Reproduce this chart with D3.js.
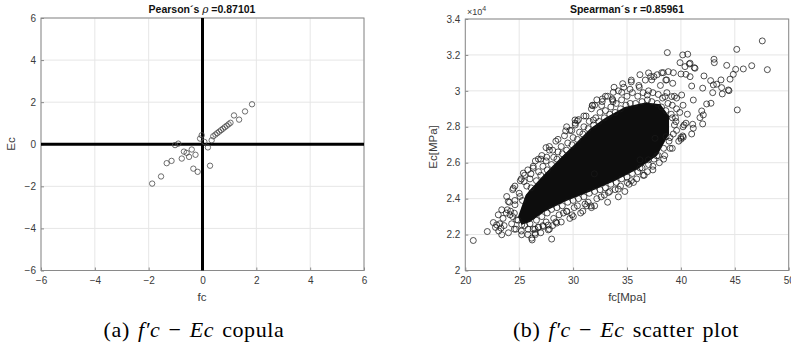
<!DOCTYPE html>
<html>
<head>
<meta charset="utf-8">
<script src="https://cdn.jsdelivr.net/npm/d3@7"></script>
<style>
  body { margin: 0; background: #fff; }
  svg { display: block; font-family: "Liberation Sans", Arial, sans-serif; }
</style>
</head>
<body>
<svg id="chart" width="791" height="347"></svg>
<script>
// ---- data ----

// (a) copula, standardised values
const copulaTicks = [-6, -4, -2, 0, 2, 4, 6];
const copulaPoints = [
  [-1.87, -1.87], [-1.54, -1.53], [-1.33, -0.90], [-1.15, -0.79], [-1.02, -0.04],
  [-0.90, 0.03], [-0.77, -0.68], [-0.69, -0.35], [-0.59, -0.41], [-0.50, -0.60],
  [-0.40, -0.25], [-0.26, -0.50], [-0.34, -1.16], [-0.18, -1.31], [0.28, -1.02],
  [-0.09, 0.27], [-0.03, 0.43], [0.07, 0.11], [0.20, -0.15], [0.34, 0.19],
  [0.40, 0.38], [0.48, 0.46], [0.55, 0.53], [0.62, 0.60], [0.69, 0.67],
  [0.76, 0.74], [0.83, 0.81], [0.90, 0.88], [0.97, 0.95], [1.04, 1.02],
  [1.17, 1.37], [1.36, 1.17], [1.58, 1.56], [1.84, 1.90]
];

// (b) scatter, fc in MPa, Ec in 10^4 MPa
const fcTicks = [20, 25, 30, 35, 40, 45, 50];
const ecTicks = [2, 2.2, 2.4, 2.6, 2.8, 3, 3.2, 3.4];

// outline of the region where the markers overlap into solid black
const denseCore = [
  [24.9, 2.30], [25.6, 2.42], [26.0, 2.45], [27.4, 2.54], [28.8, 2.625], [30.2, 2.705],
  [31.6, 2.79], [33.0, 2.85], [34.8, 2.91], [36.7, 2.935], [38.1, 2.925], [38.9, 2.86],
  [38.9, 2.76], [37.8, 2.64], [36.0, 2.565], [33.9, 2.50], [31.6, 2.44], [29.3, 2.385],
  [27.4, 2.33], [26.0, 2.27], [25.2, 2.255]
];

// markers still distinguishable above the dense core
const upperFringe = [
  [24.2,2.33],[24.6,2.39],[24.4,2.45],[25.0,2.43],[25.3,2.39],[25.1,2.50],[25.7,2.47],[25.5,2.53],
  [26.1,2.46],[26.0,2.51],[26.3,2.57],[26.6,2.50],[26.8,2.55],[26.5,2.61],[27.0,2.53],[27.2,2.58],[27.1,2.64],
  [27.6,2.56],[27.5,2.61],[27.8,2.69],[28.0,2.59],[28.2,2.63],[28.1,2.67],[28.5,2.62],[28.6,2.66],[28.4,2.72],
  [29.0,2.65],[28.9,2.69],[29.2,2.75],[29.4,2.67],[29.5,2.71],[29.7,2.78],[29.9,2.70],[30.0,2.74],[30.2,2.81],
  [30.4,2.73],[30.6,2.77],[30.5,2.84],[30.9,2.76],[31.0,2.80],[31.2,2.86],[31.4,2.79],[31.5,2.83],[31.7,2.90],
  [31.9,2.81],[32.1,2.85],[32.0,2.92],[32.4,2.83],[32.5,2.88],[32.7,2.94],[32.9,2.85],[33.0,2.89],[33.2,2.97],
  [33.4,2.87],[33.5,2.91],[33.7,2.94],[33.9,2.88],[34.0,2.93],[34.2,3.00],[34.4,2.90],[34.5,2.95],[34.7,3.02],
  [34.9,2.92],[35.0,2.97],[35.3,2.93],[35.5,2.99],[35.4,3.05],[35.8,2.93],[36.0,2.97],[36.1,3.03],[36.4,2.94],
  [36.5,2.99],[36.7,3.06],[36.9,2.95],[37.0,3.00],[37.3,2.94],[37.4,2.99],[37.2,3.08],[37.8,2.93],[37.9,2.98],
  [38.2,2.91],[38.3,2.96],[38.1,3.03],[38.6,2.89],[38.8,2.93],[38.7,2.99],[39.1,2.87],[39.2,2.92],
  [39.5,2.85],[39.6,2.90],[39.4,2.97],[39.9,2.88],
  [26.3,2.58],[27.0,2.62],[27.8,2.67],[28.6,2.73],[29.4,2.80],[30.2,2.82],[31.0,2.86],[31.8,2.92],
  [32.2,2.95],[33.0,2.97],[33.8,3.02],[34.6,3.04],[35.4,3.06],[36.2,3.09],[37.0,3.10],[37.8,3.09],
  [38.6,3.06],[39.6,2.96],[40.2,2.92],[40.6,2.87],[24.6,2.47],[25.2,2.51],[25.8,2.56]
];

// markers still distinguishable below the dense core
const lowerFringe = [
  [24.3,2.26],[24.7,2.23],[24.9,2.28],[25.2,2.22],[25.5,2.25],[25.8,2.20],[26.0,2.26],[26.3,2.23],[26.2,2.17],
  [26.6,2.28],[26.8,2.24],[26.5,2.20],[27.1,2.30],[27.2,2.25],[27.0,2.21],[27.6,2.32],[27.5,2.27],[27.8,2.23],
  [28.0,2.34],[28.2,2.29],[28.1,2.25],[28.5,2.35],[28.7,2.31],[28.4,2.27],[29.0,2.36],[29.1,2.32],[28.9,2.27],
  [29.5,2.38],[29.4,2.33],[29.7,2.29],[30.0,2.39],[30.1,2.35],[29.9,2.31],[30.5,2.40],[30.4,2.36],[30.7,2.32],
  [31.0,2.41],[31.1,2.37],[30.9,2.33],[31.5,2.43],[31.4,2.38],[31.7,2.35],[32.0,2.44],[32.2,2.40],[32.0,2.36],
  [32.5,2.45],[32.6,2.41],[33.0,2.46],[32.9,2.42],[33.2,2.38],[33.5,2.48],[33.4,2.44],[34.0,2.49],[33.9,2.45],
  [34.2,2.41],[34.5,2.51],[34.4,2.47],[34.8,2.44],[35.0,2.52],[35.2,2.48],[35.5,2.54],[35.4,2.50],[36.0,2.55],
  [35.9,2.51],[36.4,2.57],[36.5,2.53],[37.0,2.59],[36.9,2.55],[37.5,2.62],[37.4,2.58],[37.9,2.64],[38.0,2.60],
  [38.4,2.68],[38.5,2.64],[38.9,2.72],[39.0,2.68],[39.3,2.76],[39.4,2.81],[39.2,2.85],[39.6,2.78],[40.0,2.74],
  [40.2,2.80],[40.3,2.81],[39.8,2.72],[39.2,2.68],[38.4,2.62],[37.4,2.56],[36.6,2.53],[35.6,2.49],
  [23.6,2.25],[23.5,2.29],[23.8,2.32],[24.0,2.21],[23.2,2.26],[23.1,2.22],[22.8,2.24],[24.1,2.38],[24.4,2.30]
];

// isolated markers at the edges of the cloud
const outlierPoints = [
  [38.74,3.213],[40.17,3.200],[40.63,3.204],[45.18,3.231],[47.55,3.278],[43.07,3.176],
  [43.10,3.157],[44.25,3.142],[45.08,3.120],[45.79,3.122],[46.57,3.140],[48.02,3.118],
  [44.86,3.092],[44.56,3.065],[43.84,2.983],[44.46,3.001],[45.23,2.894],[39.92,3.157],
  [40.78,3.150],[41.24,3.129],[40.47,3.092],[42.14,3.083],[42.76,3.057],[43.32,3.037],
  [42.95,2.990],[42.39,2.927],[42.79,2.931],[42.08,2.866],[42.02,2.816],[41.15,2.792],
  [41.00,2.760],[40.22,2.742],[39.54,2.829],[38.62,2.745],[37.29,3.061],[38.37,3.101],
  [38.83,3.107],[39.30,3.101],[34.51,2.992],[35.28,3.009],[36.14,3.020],[33.67,2.949],
  [32.65,2.918],[30.18,2.838],[30.39,2.833],[29.87,2.779],[33.73,2.992],[33.64,2.955],
  [32.71,2.955],[31.78,2.918],[31.87,2.838],[29.31,2.777],[27.49,2.684],[44.40,3.005],
  [43.72,3.061],[43.78,3.018],[43.01,3.033],[42.02,3.015],[41.15,2.949],[41.93,2.888],
  [41.77,2.851],[41.09,2.814],[41.00,3.027],[40.85,3.154],[40.38,3.135],[41.31,3.126],
  [40.01,3.094],[39.24,3.042],[40.85,3.079],[40.07,2.977],[40.47,2.820],[40.17,2.749],
  [40.01,2.731],[38.99,2.740],[37.60,2.736],[37.50,3.079],[38.68,3.061],[38.22,3.101],
  [36.88,2.977],[38.53,2.968],[39.15,2.968],
  [20.74,2.167],[22.04,2.217],[23.38,2.199],[23.31,2.236],[22.91,2.254],[23.38,2.338],
  [23.90,2.338],[24.45,2.458],[23.99,2.384],[24.55,2.319],[25.23,2.199],[26.16,2.180],
  [26.47,2.208],[28.01,2.175],[25.38,2.542],[26.09,2.538],[25.45,2.495],[26.78,2.620],
  [27.55,2.631],[30.02,2.300],[31.26,2.360],[31.66,2.360],[33.27,2.434],[34.19,2.453],
  [35.03,2.489],[36.21,2.570],[36.98,2.616],[37.76,2.638],[36.21,2.616],[31.97,2.538],
  [29.41,2.328],[28.48,2.264],[27.70,2.226],[27.24,2.245],[26.47,2.230],[25.23,2.254],
  [24.77,2.282],[22.60,2.267],[23.06,2.310],[24.15,2.310],[24.61,2.366],[23.84,2.412],
  [25.07,2.412],[24.55,2.230],[25.83,2.230],[26.76,2.242],[27.69,2.253]
];

// ---- drawing ----
const svg = d3.select('#chart');
const axisColor = '#8a8a8a';
const gridColor = '#e6e6e6';
const labelColor = '#3a3a3a';

// soft edge for the solid core so it blends into the fringe markers
svg.append('defs').append('filter').attr('id', 'soft')
  .append('feGaussianBlur').attr('stdDeviation', 0.7);

function drawFrame(x, y, xTicks, yTicks, xFmt, yFmt) {
  const g = svg.append('g');
  const [x0, x1] = x.range();
  const [y0, y1] = y.range();

  // grid
  g.selectAll('.vgrid').data(xTicks).enter().append('line')
    .attr('x1', d => x(d)).attr('x2', d => x(d))
    .attr('y1', y0).attr('y2', y1)
    .attr('stroke', gridColor).attr('stroke-width', 1);
  g.selectAll('.hgrid').data(yTicks).enter().append('line')
    .attr('x1', x0).attr('x2', x1)
    .attr('y1', d => y(d)).attr('y2', d => y(d))
    .attr('stroke', gridColor).attr('stroke-width', 1);

  // box
  g.append('rect')
    .attr('x', x0).attr('y', y1)
    .attr('width', x1 - x0).attr('height', y0 - y1)
    .attr('fill', 'none').attr('stroke', axisColor).attr('stroke-width', 1);

  // bottom / left axes: inward ticks, gray labels
  const xAxis = d3.axisBottom(x).tickValues(xTicks).tickSize(-3).tickPadding(6).tickFormat(xFmt);
  const yAxis = d3.axisLeft(y).tickValues(yTicks).tickSize(-3).tickPadding(5).tickFormat(yFmt);
  const gx = g.append('g').attr('transform', `translate(0,${y0})`).call(xAxis);
  const gy = g.append('g').attr('transform', `translate(${x0},0)`).call(yAxis);
  [gx, gy].forEach(a => {
    a.select('.domain').remove();
    a.selectAll('line').attr('stroke', axisColor);
    a.selectAll('text').attr('fill', labelColor)
      .style('font-size', '10px').style('font-family', '"Liberation Sans", Arial, sans-serif');
  });
  return g;
}

function title(cx, parts) {
  const t = svg.append('text')
    .attr('x', cx).attr('y', 13)
    .attr('text-anchor', 'middle')
    .style('font-size', '10.5px').style('font-weight', 'bold').attr('fill', '#111');
  parts.forEach(p => {
    const s = t.append('tspan').text(p.text);
    if (p.italic) s.style('font-style', 'italic').style('font-weight', 'normal')
      .style('font-family', '"DejaVu Serif", serif');
  });
}

function axisLabel(x, y, text, rotate) {
  svg.append('text')
    .attr('transform', `translate(${x},${y})` + (rotate ? ' rotate(-90)' : ''))
    .attr('text-anchor', 'middle')
    .attr('fill', labelColor)
    .style('font-size', '11.5px')
    .text(text);
}

// ---- panel (a) ----
const xa = d3.scaleLinear().domain([-6, 6]).range([41, 364]);
const ya = d3.scaleLinear().domain([-6, 6]).range([270.5, 18]);
drawFrame(xa, ya, copulaTicks, copulaTicks, d3.format('d'), d3.format('d'));

// thick zero lines
svg.append('line').attr('x1', xa(0)).attr('x2', xa(0)).attr('y1', ya(-6)).attr('y2', ya(6))
  .attr('stroke', '#000').attr('stroke-width', 3);
svg.append('line').attr('x1', xa(-6)).attr('x2', xa(6)).attr('y1', ya(0)).attr('y2', ya(0))
  .attr('stroke', '#000').attr('stroke-width', 3);

svg.append('g').selectAll('circle').data(copulaPoints).enter().append('circle')
  .attr('cx', d => xa(d[0])).attr('cy', d => ya(d[1])).attr('r', 2.7)
  .attr('fill', 'none').attr('stroke', '#4a4a4a').attr('stroke-width', 0.8);

title(202, [{ text: 'Pearson\u00b4s ' }, { text: '\u03c1', italic: true }, { text: ' =0.87101' }]);
axisLabel(202, 301, 'fc', false);
axisLabel(15, 144, 'Ec', true);

// ---- panel (b) ----
const xb = d3.scaleLinear().domain([20, 50]).range([465.3, 788.7]);
const yb = d3.scaleLinear().domain([2, 3.4]).range([270.5, 19]);
drawFrame(xb, yb, fcTicks, ecTicks, d3.format('d'), d => String(d));

svg.append('path')
  .datum(denseCore)
  .attr('d', d3.line().x(d => xb(d[0])).y(d => yb(d[1])).curve(d3.curveLinearClosed))
  .attr('fill', '#080808')
  .attr('filter', 'url(#soft)');

svg.append('g').selectAll('circle')
  .data(upperFringe.concat(lowerFringe, outlierPoints)).enter().append('circle')
  .attr('cx', d => xb(d[0])).attr('cy', d => yb(d[1])).attr('r', 3)
  .attr('fill', 'none').attr('stroke', '#1a1a1a').attr('stroke-width', 0.75);

// exponent label
const ex = svg.append('text').attr('x', 467).attr('y', 15).attr('fill', labelColor).style('font-size', '9px');
ex.append('tspan').text('\u00d710');
ex.append('tspan').attr('dy', -4).style('font-size', '7px').text('4');

title(627, [{ text: 'Spearman\u00b4s r =0.85961' }]);
axisLabel(627, 301, 'fc[Mpa]', false);
axisLabel(437, 147, 'Ec[MPa]', true);

// ---- captions ----
function caption(cx, parts) {
  const t = svg.append('text').attr('x', cx).attr('y', 337)
    .attr('text-anchor', 'middle').attr('fill', '#000')
    .style('font-family', '"Liberation Serif", "DejaVu Serif", serif')
    .style('font-size', '22px').style('word-spacing', '2px').style('letter-spacing', '0.6px');
  parts.forEach(p => {
    const s = t.append('tspan').text(p.text);
    if (p.italic) s.style('font-style', 'italic');
  });
}
caption(194, [{ text: '(a)  ' }, { text: 'f\u2032c', italic: true }, { text: ' \u2212 ' },
  { text: 'Ec', italic: true }, { text: ' copula' }]);
caption(626, [{ text: '(b)  ' }, { text: 'f\u2032c', italic: true }, { text: ' \u2212 ' },
  { text: 'Ec', italic: true }, { text: ' scatter plot' }]);
</script>
</body>
</html>
